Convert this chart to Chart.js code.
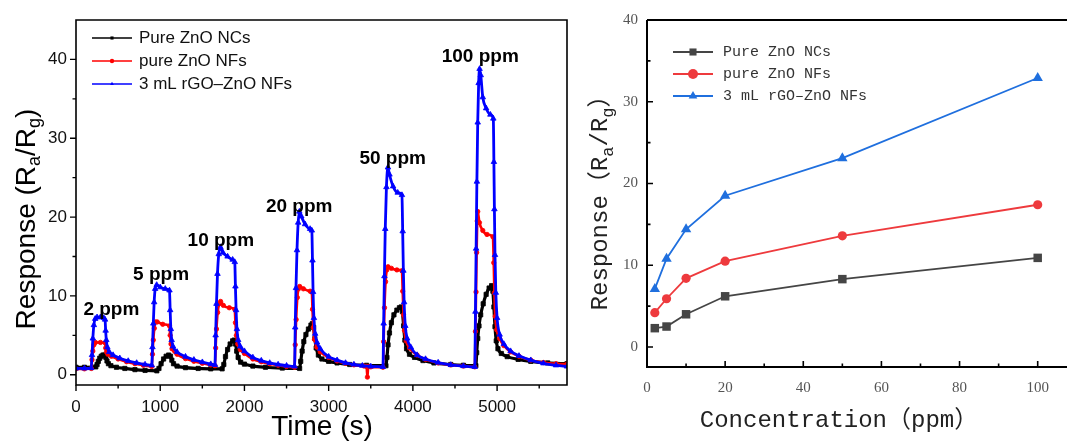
<!DOCTYPE html>
<html>
<head>
<meta charset="utf-8">
<script src="https://cdn.jsdelivr.net/npm/chart.js@4.4.1/dist/chart.umd.min.js"></script>
<style>
  html, body { margin: 0; padding: 0; background: #fff; }
  #wrap { position: relative; width: 1067px; height: 441px; overflow: hidden; }
  #left { position: absolute; left: 0; top: 0; width: 570px; height: 441px; }
  #right { position: absolute; left: 570px; top: 0; width: 497px; height: 441px; }
</style>
</head>
<body>
<div id="wrap">
  <div id="left"><canvas id="timeChart"></canvas></div>
  <div id="right"><canvas id="concChart"></canvas></div>
</div>
<script>
// ------------------------------------------------------------
// Left panel: dynamic response traces, [time (s), response]
// ------------------------------------------------------------
const ncsTrace = [
  [0,0.95],[100,0.95],[235,1.0],
  [250,1.3],[265,1.7],[282,2.1],[300,2.35],[320,2.5],[340,2.5],[355,2.2],[368,1.75],[385,1.4],[415,1.15],[480,0.95],[580,0.8],[700,0.65],[820,0.55],[960,0.5],
  [985,0.8],[1010,1.4],[1040,2.0],[1070,2.35],[1100,2.5],[1122,2.35],[1138,1.85],[1158,1.4],[1200,1.1],[1300,0.9],[1450,0.8],[1600,0.75],[1735,0.75],
  [1755,1.3],[1775,2.3],[1800,3.2],[1830,3.9],[1860,4.3],[1880,4.4],[1895,3.9],[1908,3.0],[1925,2.2],[1955,1.6],[2000,1.35],[2100,1.1],[2250,0.95],[2450,0.85],[2655,0.8],
  [2668,1.7],[2685,3.0],[2705,4.2],[2730,5.1],[2760,5.8],[2790,6.3],[2808,6.5],[2822,6.0],[2836,4.6],[2852,3.4],[2878,2.5],[2920,2.0],[3000,1.7],[3100,1.5],[3250,1.3],[3450,1.2],[3680,1.15],
  [3692,2.2],[3705,3.8],[3722,5.3],[3745,6.6],[3775,7.6],[3810,8.2],[3840,8.5],[3862,8.6],[3876,8.0],[3890,6.2],[3905,4.4],[3925,3.3],[3960,2.6],[4020,2.2],[4120,1.8],[4250,1.5],[4450,1.3],[4600,1.2],[4748,1.15],
  [4758,2.8],[4770,4.6],[4785,6.2],[4805,7.6],[4835,9.0],[4870,10.2],[4905,11.0],[4935,11.3],[4950,10.6],[4962,8.6],[4975,6.1],[4990,4.3],[5010,3.3],[5050,2.7],[5120,2.3],[5250,1.95],[5400,1.7],[5600,1.5],[5830,1.4]
];

const nfsTrace = [
  [0,0.75],[100,0.75],[182,0.8],
  [190,1.9],[200,3.0],[213,3.8],[230,4.1],[290,4.1],[345,4.05],
  [352,3.4],[362,2.9],[378,2.6],[420,2.35],[500,2.0],[600,1.65],[700,1.4],[800,1.2],[900,1.05],
  [908,2.6],[918,4.4],[930,5.9],[945,6.7],[965,6.7],[1030,6.4],[1110,6.2],
  [1118,5.0],[1128,3.9],[1140,3.3],[1200,2.6],[1300,2.05],[1400,1.7],[1500,1.45],[1600,1.25],[1650,1.15],
  [1658,3.4],[1668,5.8],[1682,7.9],[1700,9.0],[1717,9.3],[1750,8.8],[1820,8.5],[1885,8.3],
  [1893,6.6],[1904,5.0],[1920,3.9],[1950,3.2],[2000,2.7],[2100,2.0],[2200,1.65],[2300,1.4],[2400,1.2],[2500,1.05],[2595,0.95],
  [2603,3.8],[2614,7.0],[2628,9.8],[2642,10.9],[2656,11.2],[2700,10.9],[2780,10.6],[2800,10.5],
  [2808,8.3],[2818,6.0],[2832,4.5],[2860,3.5],[2900,2.9],[3000,2.2],[3100,1.75],[3200,1.45],[3300,1.25],[3420,1.1],[3450,1.05],[3460,-0.3],[3470,1.05],[3500,1.0],[3645,0.95],
  [3653,4.2],[3663,8.5],[3676,11.8],[3690,13.3],[3705,13.7],[3745,13.5],[3810,13.3],[3870,13.2],
  [3879,10.6],[3889,7.6],[3900,5.6],[3920,4.3],[3960,3.4],[4050,2.5],[4150,1.95],[4300,1.5],[4450,1.25],[4600,1.1],[4735,1.0],
  [4743,5.5],[4750,10.5],[4757,15.5],[4764,19.5],[4770,20.7],[4790,19.3],[4830,18.3],[4880,17.8],[4950,17.5],
  [4960,14.2],[4968,10.4],[4978,7.4],[4995,5.7],[5030,4.6],[5080,3.7],[5160,2.9],[5260,2.35],[5400,1.85],[5550,1.55],[5700,1.4],[5830,1.35]
];

const rgoTrace = [
  [0,0.8],[100,0.8],[180,0.85],
  [190,2.5],[200,4.6],[212,6.3],[228,7.1],[250,7.3],[290,7.3],[330,7.2],[345,7.0],
  [352,5.6],[360,4.4],[372,3.5],[395,2.9],[440,2.5],[520,2.1],[620,1.75],[720,1.5],[820,1.3],[900,1.2],
  [908,3.5],[918,6.5],[928,9.2],[940,10.9],[958,11.4],[1000,11.1],[1060,10.9],[1110,10.7],
  [1118,8.2],[1126,5.8],[1136,4.4],[1152,3.6],[1200,2.9],[1300,2.3],[1400,1.9],[1500,1.6],[1600,1.35],[1650,1.25],
  [1658,5.0],[1668,9.0],[1680,12.8],[1695,15.3],[1715,16.2],[1745,15.5],[1800,15.0],[1860,14.6],[1885,14.3],
  [1893,11.2],[1901,8.2],[1911,5.8],[1926,4.4],[1950,3.6],[2000,3.0],[2100,2.2],[2200,1.8],[2300,1.5],[2400,1.3],[2500,1.15],[2595,1.05],
  [2603,6.0],[2612,11.0],[2624,15.8],[2638,19.3],[2652,20.7],[2675,20.1],[2720,19.1],[2780,18.5],[2800,18.3],
  [2808,14.5],[2815,10.5],[2825,7.2],[2840,5.2],[2862,4.1],[2900,3.3],[3000,2.3],[3100,1.85],[3200,1.5],[3300,1.3],[3400,1.15],[3500,1.05],[3645,1.0],
  [3653,6.5],[3662,12.5],[3672,18.5],[3686,23.8],[3704,26.3],[3722,25.4],[3765,23.9],[3820,23.1],[3870,22.8],
  [3879,18.2],[3887,13.2],[3896,9.2],[3910,6.2],[3932,4.6],[3975,3.5],[4050,2.5],[4150,2.0],[4300,1.55],[4450,1.25],[4600,1.1],[4735,1.0],
  [4743,8.0],[4751,16.0],[4760,24.5],[4770,32.0],[4781,37.0],[4792,38.8],[4806,38.0],[4830,35.2],[4870,33.8],[4920,33.0],[4955,32.5],
  [4962,27.0],[4968,21.0],[4975,15.2],[4985,10.4],[5000,7.2],[5030,5.1],[5080,3.9],[5160,3.0],[5260,2.4],[5400,1.85],[5550,1.45],[5700,1.2],[5830,1.05]
];

// Concentration labels above each pulse: [text, time, response]
const pulseLabels = [
  ["2 ppm", 420, 8.3], ["5 ppm", 1010, 12.7], ["10 ppm", 1720, 17.0],
  ["20 ppm", 2650, 21.3], ["50 ppm", 3760, 27.4], ["100 ppm", 4800, 40.3]
];

const timeTicks = [0, 1000, 2000, 3000, 4000, 5000];
const timeMinorTicks = [500, 1500, 2500, 3500, 4500, 5500];
const respTicksLeft = [0, 10, 20, 30, 40];
const respMinorLeft = [5, 15, 25, 35];

// ------------------------------------------------------------
// Right panel: response vs concentration
// ------------------------------------------------------------
const concentration = [2, 5, 10, 20, 50, 100];
const ncsResp = [2.3, 2.5, 4.0, 6.2, 8.3, 10.9];
const nfsResp = [4.2, 5.9, 8.4, 10.5, 13.6, 17.4];
const rgoResp = [7.1, 10.8, 14.4, 18.5, 23.1, 32.9];

const concTicks = [0, 20, 40, 60, 80, 100];
const concMinorTicks = [10, 30, 50, 70, 90];
const respTicksRight = [0, 10, 20, 30, 40];
const respMinorRight = [5, 15, 25, 35];

const seriesNames = ["Pure ZnO NCs", "pure ZnO NFs", "3 mL rGO\u2013ZnO NFs"];

// ------------------------------------------------------------
// Small drawing helpers (markers for the legends, rich text for subscripts)
// ------------------------------------------------------------
function marker(ctx, style, r, x, y) {
  ctx.beginPath();
  if (style === "rect") {
    const s = r * Math.SQRT1_2;
    ctx.rect(x - s, y - s, 2 * s, 2 * s);
  } else if (style === "triangle") {
    ctx.moveTo(x, y - r);
    ctx.lineTo(x + r * 0.866, y + r * 0.5);
    ctx.lineTo(x - r * 0.866, y + r * 0.5);
    ctx.closePath();
  } else {
    ctx.arc(x, y, r, 0, Math.PI * 2);
  }
  ctx.fill();
}

// parts: [[text, isSub], ...] drawn centred on (0, 0)
function richText(ctx, parts, font, subFont, subShift) {
  let w = 0;
  parts.forEach(p => { ctx.font = p[1] ? subFont : font; w += ctx.measureText(p[0]).width; });
  let x = -w / 2;
  ctx.textAlign = "left";
  ctx.textBaseline = "middle";
  parts.forEach(p => {
    ctx.font = p[1] ? subFont : font;
    ctx.fillText(p[0], x, p[1] ? subShift : 0);
    x += ctx.measureText(p[0]).width;
  });
}

// Frame, major/minor ticks, axis titles, legend and labels
const axisDeco = {
  id: "axisDeco",
  afterDraw(chart, _args, o) {
    const { ctx, chartArea: a, scales } = chart;
    const xs = scales.x, ys = scales.y;
    ctx.save();
    ctx.strokeStyle = o.color;
    ctx.lineWidth = o.lineWidth;

    // frame
    ctx.beginPath();
    ctx.moveTo(a.left, a.top);
    ctx.lineTo(a.left, a.bottom);
    ctx.lineTo(a.right, a.bottom);
    if (o.closed) {
      ctx.lineTo(a.right, a.top);
      ctx.closePath();
    } else {
      ctx.moveTo(a.left, a.top);
      ctx.lineTo(a.right, a.top);
    }
    ctx.stroke();

    // ticks (outward or inward)
    const dir = o.inward ? -1 : 1;
    ctx.lineWidth = o.tickWidth;
    ctx.beginPath();
    const xTick = (v, len) => { const p = xs.getPixelForValue(v); ctx.moveTo(p, a.bottom); ctx.lineTo(p, a.bottom + dir * len); };
    const yTick = (v, len) => { const p = ys.getPixelForValue(v); ctx.moveTo(a.left, p); ctx.lineTo(a.left - dir * len, p); };
    o.xMajor.forEach(v => xTick(v, o.majorLen));
    o.xMinor.forEach(v => xTick(v, o.minorLen));
    o.yMajor.forEach(v => yTick(v, o.majorLen));
    o.yMinor.forEach(v => yTick(v, o.minorLen));
    ctx.stroke();

    // axis titles
    ctx.fillStyle = o.titleColor;
    ctx.save();
    ctx.translate(o.yTitle.x, o.yTitle.y);
    ctx.rotate(-Math.PI / 2);
    richText(ctx, o.yTitle.parts, o.yTitle.font, o.yTitle.subFont, o.yTitle.subShift);
    ctx.restore();
    ctx.save();
    ctx.translate(o.xTitle.x, o.xTitle.y);
    richText(ctx, [[o.xTitle.text, false]], o.xTitle.font, o.xTitle.font, 0);
    ctx.restore();

    // legend: short line with a marker in the middle
    const lg = o.legend;
    chart.data.datasets.slice().sort((p, q) => p.legendIndex - q.legendIndex).forEach((ds, i) => {
      const y = lg.y + i * lg.dy;
      ctx.strokeStyle = ds.borderColor;
      ctx.fillStyle = ds.borderColor;
      ctx.lineWidth = lg.lineWidth;
      ctx.beginPath();
      ctx.moveTo(lg.x, y);
      ctx.lineTo(lg.x + lg.len, y);
      ctx.stroke();
      marker(ctx, ds.pointStyle, lg.markerR, lg.x + lg.len / 2, y);
      ctx.fillStyle = lg.color;
      ctx.font = lg.font;
      ctx.textAlign = "left";
      ctx.textBaseline = "middle";
      ctx.fillText(ds.label, lg.x + lg.len + lg.gap, y);
    });

    // text labels anchored in data coordinates
    if (o.notes) {
      ctx.fillStyle = "#000";
      ctx.font = o.notesFont;
      ctx.textAlign = "center";
      ctx.textBaseline = "middle";
      o.notes.forEach(n => ctx.fillText(n[0], xs.getPixelForValue(n[1]), ys.getPixelForValue(n[2])));
    }
    ctx.restore();
  }
};

const toXY = arr => arr.map(p => ({ x: p[0], y: p[1] }));
const useTicks = vals => scale => { scale.ticks = vals.map(v => ({ value: v })); };
const plainLabel = v => String(v);
// fixed axis sizes, and no extra room for overhanging tick labels
const fixHeight = h => s => { s.height = h; s.paddingLeft = 0; s.paddingRight = 0; };
const fixWidth = w => s => { s.width = w; s.paddingTop = 0; s.paddingBottom = 0; };

// ------------------------------------------------------------
// Left chart
// ------------------------------------------------------------
const sans = "'Liberation Sans', Arial, sans-serif";

function traceSet(label, data, color, style, r, width, order, legendIndex) {
  return {
    label, data: toXY(data), borderColor: color, backgroundColor: color,
    pointStyle: style, pointRadius: r, pointBorderWidth: 0.8,
    pointBackgroundColor: color, pointBorderColor: color,
    borderWidth: width, cubicInterpolationMode: "monotone", order, legendIndex
  };
}

new Chart(document.getElementById("timeChart"), {
  type: "line",
  data: {
    datasets: [
      traceSet(seriesNames[0], ncsTrace, "#000000", "rect", 3.0, 3.2, 3, 0),
      traceSet(seriesNames[1], nfsTrace, "#ff0000", "circle", 2.2, 2.6, 2, 1),
      traceSet(seriesNames[2], rgoTrace, "#0000ff", "triangle", 3.2, 2.8, 1, 2)
    ]
  },
  options: {
    responsive: true, maintainAspectRatio: false, animation: false, events: [],
    layout: { autoPadding: false, padding: { top: 20, right: 3, left: 0, bottom: 0 } },
    plugins: {
      legend: { display: false }, tooltip: { enabled: false },
      axisDeco: {
        color: "#000", lineWidth: 1.6, tickWidth: 1.4, closed: true, inward: false,
        majorLen: 6, minorLen: 3.5,
        xMajor: timeTicks, xMinor: timeMinorTicks, yMajor: respTicksLeft, yMinor: respMinorLeft,
        titleColor: "#000",
        yTitle: { x: 27, y: 219, parts: [["Response (R", false], ["a", true], ["/R", false], ["g", true], [")", false]],
                  font: "28px " + sans, subFont: "18px " + sans, subShift: 8 },
        xTitle: { x: 322, y: 427, text: "Time (s)", font: "28px " + sans },
        legend: { x: 92, y: 38, dy: 23, len: 40, gap: 7, lineWidth: 1.4, markerR: 2.2,
                  font: "17px " + sans, color: "#111" },
        notes: pulseLabels, notesFont: "bold 19px " + sans
      }
    },
    scales: {
      x: {
        type: "linear", min: 0, max: 5830,
        afterBuildTicks: useTicks(timeTicks),
        afterFit: fixHeight(56),
        grid: { display: false, drawTicks: false }, border: { display: false },
        ticks: { font: { family: sans, size: 17 }, color: "#111", padding: 12, maxRotation: 0, autoSkip: false, callback: plainLabel }
      },
      y: {
        type: "linear", min: -1.3, max: 45,
        afterBuildTicks: useTicks(respTicksLeft),
        afterFit: fixWidth(76),
        grid: { display: false, drawTicks: false }, border: { display: false },
        ticks: { font: { family: sans, size: 17 }, color: "#111", padding: 9, callback: plainLabel }
      }
    }
  },
  plugins: [axisDeco]
});

// ------------------------------------------------------------
// Right chart
// ------------------------------------------------------------
const mono = "'Liberation Mono', 'Noto Sans CJK SC', monospace";
const serif = "'Liberation Serif', 'Times New Roman', serif";

function concSet(label, values, color, style, r, legendIndex) {
  return {
    label, data: concentration.map((c, i) => ({ x: c, y: values[i] })),
    borderColor: color, backgroundColor: color, pointBackgroundColor: color, pointBorderColor: color,
    pointStyle: style, pointRadius: r, pointBorderWidth: 0, borderWidth: 1.8, tension: 0, legendIndex
  };
}

new Chart(document.getElementById("concChart"), {
  type: "line",
  data: {
    datasets: [
      concSet(seriesNames[0], ncsResp, "#454545", "rect", 6, 0),
      concSet(seriesNames[1], nfsResp, "#ee3a3d", "circle", 4.6, 1),
      concSet(seriesNames[2], rgoResp, "#1f6fde", "triangle", 6, 2)
    ]
  },
  options: {
    responsive: true, maintainAspectRatio: false, animation: false, events: [],
    layout: { autoPadding: false, padding: { top: 20, right: 0, left: 0, bottom: 0 } },
    plugins: {
      legend: { display: false }, tooltip: { enabled: false },
      axisDeco: {
        color: "#000", lineWidth: 2, tickWidth: 1.6, closed: false, inward: true,
        majorLen: 6, minorLen: 3.5,
        xMajor: concTicks, xMinor: concMinorTicks, yMajor: respTicksRight, yMinor: respMinorRight,
        titleColor: "#222",
        yTitle: { x: 31, y: 197, parts: [["Response\uFF08R", false], ["a", true], ["/R", false], ["g", true], ["\uFF09", false]],
                  font: "24px " + mono, subFont: "17px " + mono, subShift: 7 },
        xTitle: { x: 269, y: 421, text: "Concentration\uFF08ppm\uFF09", font: "24px " + mono },
        legend: { x: 103, y: 52, dy: 22, len: 40, gap: 10, lineWidth: 1.8, markerR: 5,
                  font: "15px " + mono, color: "#333" }
      }
    },
    scales: {
      x: {
        type: "linear", min: 0, max: 107.5,
        afterBuildTicks: useTicks(concTicks),
        afterFit: fixHeight(74),
        grid: { display: false, drawTicks: false }, border: { display: false },
        ticks: { font: { family: serif, size: 15 }, color: "#555", padding: 12, maxRotation: 0, autoSkip: false, callback: plainLabel }
      },
      y: {
        type: "linear", min: -2.45, max: 40,
        afterBuildTicks: useTicks(respTicksRight),
        afterFit: fixWidth(77),
        grid: { display: false, drawTicks: false }, border: { display: false },
        ticks: { font: { family: serif, size: 15 }, color: "#555", padding: 9, callback: plainLabel }
      }
    }
  },
  plugins: [axisDeco]
});
</script>
</body>
</html>
